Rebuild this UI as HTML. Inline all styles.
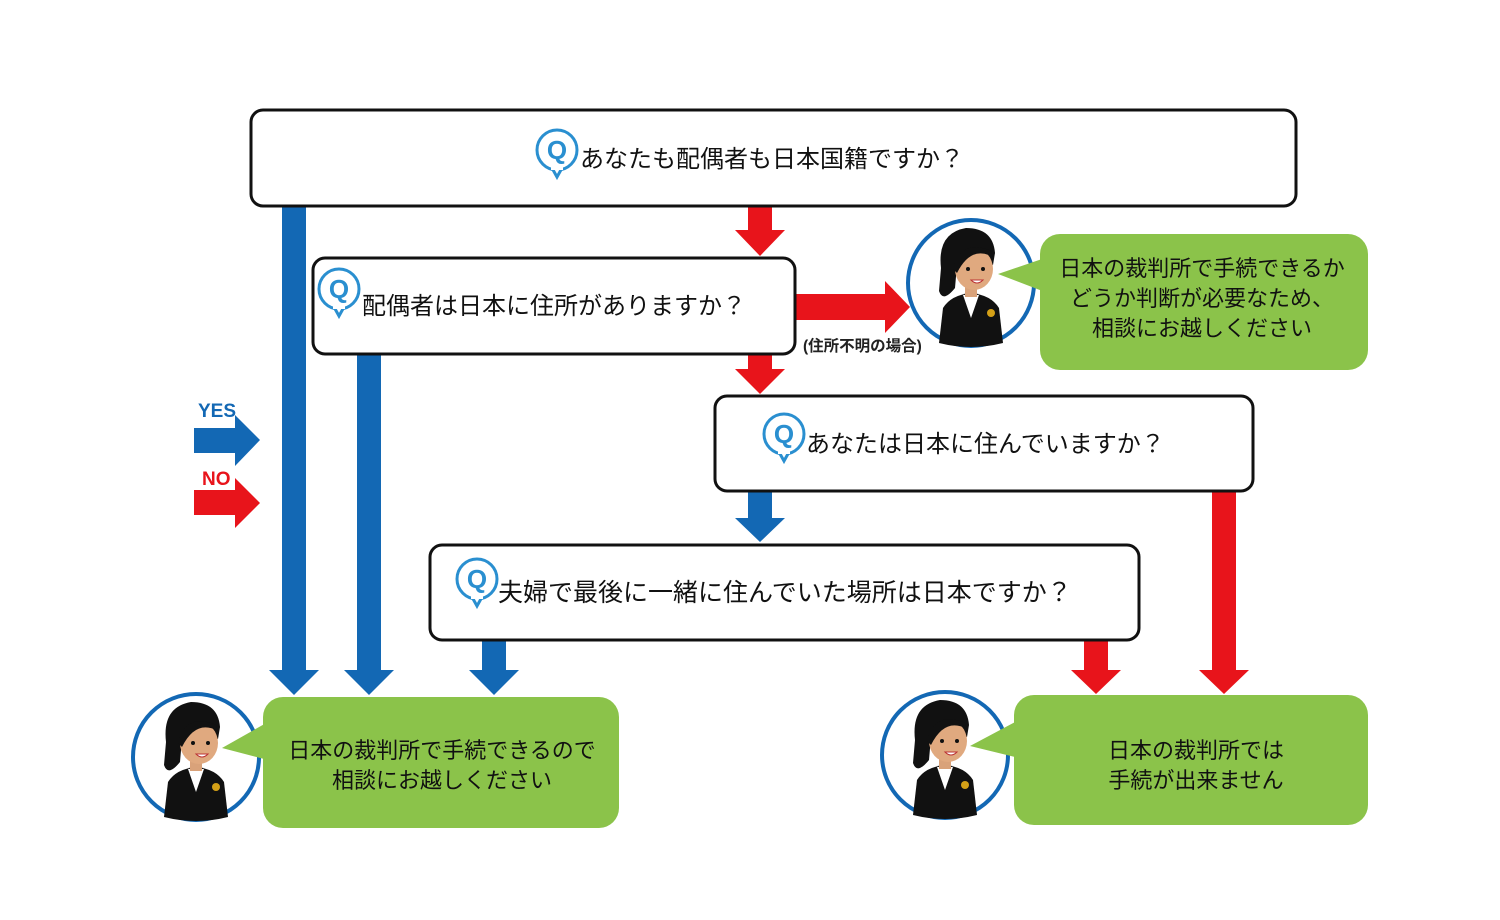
<!DOCTYPE html>
<html><head><meta charset="utf-8"><style>
body{margin:0;background:#fff}
svg{display:block}
text{font-family:"Liberation Sans","Noto Sans CJK JP",sans-serif}
</style></head><body>
<svg width="1500" height="920" viewBox="0 0 1500 920" xmlns="http://www.w3.org/2000/svg">
<defs>
<g id="q">
<circle cx="0" cy="0" r="20" fill="#fff" stroke="#2a8fd0" stroke-width="3"/>
<path d="M-5 18 L0 27 L5 18" fill="#fff" stroke="#2a8fd0" stroke-width="3"/>
<rect x="-6" y="15" width="12" height="5" fill="#fff"/>
<text x="0" y="9" text-anchor="middle" font-size="26" font-weight="bold" fill="#2a8fd0">Q</text>
</g>
<g id="p">
<circle cx="0" cy="0" r="63" fill="#fff" stroke="#1368b4" stroke-width="4"/>
<path d="M-32 60 L-28 25 Q-20 12 0 10 Q20 12 28 25 L32 60 Q0 68 -32 60Z" fill="#111"/>
<path d="M-8 12 L0 35 L8 12Z" fill="#fff"/>
<circle cx="20" cy="30" r="4" fill="#d4a017"/>
<rect x="-6" y="2" width="12" height="12" fill="#d9a27a"/>
<path d="M-30 -15 Q-34 -50 -5 -55 Q22 -55 24 -30 L22 -18 Q-2 -35 -14 -18 L-16 5 Q-28 20 -32 8Z" fill="#111"/>
<ellipse cx="3" cy="-14" rx="19" ry="21" fill="#e0a97f"/>
<path d="M-18 -14 Q-10 -45 20 -32 L22 -26 Q0 -38 -14 -10Z" fill="#111"/>
<circle cx="-3" cy="-14" r="2" fill="#111"/><circle cx="12" cy="-14" r="2" fill="#111"/>
<path d="M0 -3 Q6 3 12 -3Z" fill="#fff" stroke="#b33" stroke-width="1"/>
</g>
</defs>

<g fill="#1368b4">
<rect x="282" y="207" width="24" height="465"/><path d="M269 670 L319 670 L294 695Z"/>
<rect x="357" y="355" width="24" height="317"/><path d="M344 670 L394 670 L369 695Z"/>
<rect x="482" y="641" width="24" height="31"/><path d="M469 670 L519 670 L494 695Z"/>
<rect x="748" y="492" width="24" height="28"/><path d="M735 518 L785 518 L760 542Z"/>
<rect x="194" y="428" width="42" height="25"/><path d="M235 415 L260 440 L235 466Z"/>
</g>
<g fill="#e8141b">
<rect x="748" y="207" width="24" height="25"/><path d="M735 230 L785 230 L760 256Z"/>
<rect x="748" y="355" width="24" height="16"/><path d="M735 369 L785 369 L760 394Z"/>
<rect x="1084" y="641" width="24" height="31"/><path d="M1071 670 L1121 670 L1096 694Z"/>
<rect x="1212" y="492" width="24" height="180"/><path d="M1199 670 L1249 670 L1224 694Z"/>
<rect x="796" y="294" width="91" height="26"/><path d="M885 281 L910 307 L885 333Z"/>
<rect x="194" y="490" width="42" height="25"/><path d="M235 478 L260 503 L235 528Z"/>
</g>
<text x="198" y="417" font-size="19" font-weight="bold" fill="#1368b4">YES</text>
<text x="202" y="485" font-size="19" font-weight="bold" fill="#e8141b">NO</text>
<text x="803" y="351" font-size="15.5" font-weight="bold" fill="#222">(住所不明の場合)</text>

<g fill="#fff" stroke="#111" stroke-width="3">
<rect x="251" y="110" width="1045" height="96" rx="12"/>
<rect x="313" y="258" width="482" height="96" rx="12"/>
<rect x="715" y="396" width="538" height="95" rx="12"/>
<rect x="430" y="545" width="709" height="95" rx="12"/>
</g>
<use href="#q" x="557" y="150"/>
<use href="#q" x="339" y="289"/>
<use href="#q" x="784" y="434"/>
<use href="#q" x="477" y="579"/>
<g font-size="24" fill="#111">
<text x="580" y="167">あなたも配偶者も日本国籍ですか？</text>
<text x="362" y="314">配偶者は日本に住所がありますか？</text>
<text x="806" y="452">あなたは日本に住んでいますか？</text>
<text x="498" y="601" font-size="25">夫婦で最後に一緒に住んでいた場所は日本ですか？</text>
</g>

<use href="#p" x="971" y="283"/>
<use href="#p" x="196" y="757"/>
<use href="#p" x="945" y="755"/>

<g fill="#8bc34a">
<rect x="1040" y="234" width="328" height="136" rx="20"/><path d="M1045 258 L998 274 L1045 292Z"/>
<rect x="263" y="697" width="356" height="131" rx="20"/><path d="M268 722 L222 748 L268 760Z"/>
<rect x="1014" y="695" width="354" height="130" rx="20"/><path d="M1019 720 L970 746 L1019 758Z"/>
</g>
<g font-size="22" fill="#111" text-anchor="middle">
<text x="1202" y="276">日本の裁判所で手続できるか</text>
<text x="1202" y="306">どうか判断が必要なため、</text>
<text x="1202" y="336">相談にお越しください</text>
<text x="442" y="758">日本の裁判所で手続できるので</text>
<text x="442" y="788">相談にお越しください</text>
<text x="1196" y="758">日本の裁判所では</text>
<text x="1196" y="788">手続が出来ません</text>
</g>
</svg>
</body></html>
